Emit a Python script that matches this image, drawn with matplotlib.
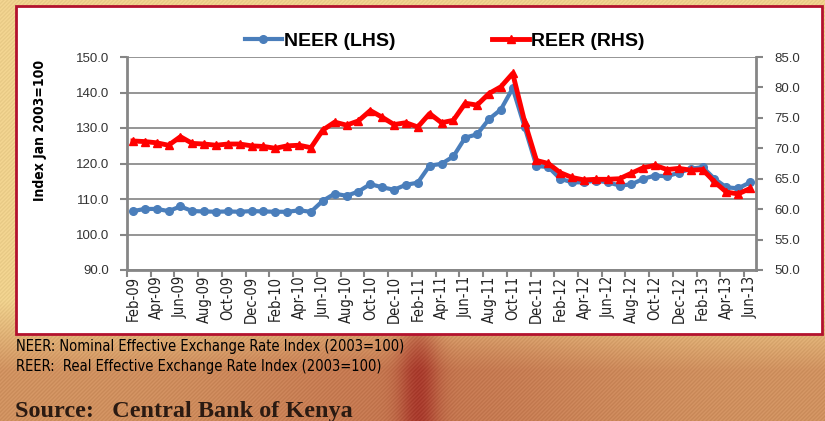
import numpy as np
import matplotlib.pyplot as plt
from matplotlib.patches import Rectangle

# ---------------- data ----------------
tick_labels = ["Feb-09", "Apr-09", "Jun-09", "Aug-09", "Oct-09", "Dec-09",
               "Feb-10", "Apr-10", "Jun-10", "Aug-10", "Oct-10", "Dec-10",
               "Feb-11", "Apr-11", "Jun-11", "Aug-11", "Oct-11", "Dec-11",
               "Feb-12", "Apr-12", "Jun-12", "Aug-12", "Oct-12", "Dec-12",
               "Feb-13", "Apr-13", "Jun-13"]

# monthly, Feb-09 .. Jun-13
neer = [106.6, 107.2, 107.2, 106.6, 107.9, 106.6, 106.5, 106.4, 106.5, 106.4,
        106.6, 106.5, 106.4, 106.4, 106.8, 106.4, 109.5, 111.5, 110.9, 112.1,
        114.2, 113.3, 112.6, 114.0, 114.6, 119.4, 119.9, 122.0, 127.3, 128.2,
        132.5, 135.2, 141.2, 130.3, 119.3, 119.0, 115.7, 114.7, 114.7, 115.2,
        114.7, 113.8, 114.1, 115.7, 116.6, 116.4, 117.4, 118.5, 119.0, 115.7,
        113.3, 113.0, 114.7]

reer = [71.2, 71.1, 70.9, 70.5, 71.9, 70.8, 70.7, 70.5, 70.7, 70.7,
        70.4, 70.3, 70.0, 70.4, 70.5, 70.1, 73.0, 74.3, 73.8, 74.5,
        76.2, 75.1, 73.9, 74.2, 73.5, 75.7, 74.2, 74.6, 77.4, 77.1,
        79.0, 80.1, 82.3, 74.4, 68.0, 67.5, 66.0, 65.2, 64.8, 64.9,
        64.9, 65.0, 65.9, 66.8, 67.2, 66.5, 66.7, 66.4, 66.5, 64.5,
        62.8, 62.5, 63.4]

left_ticks = [90, 100, 110, 120, 130, 140, 150]
right_ticks = [50, 55, 60, 65, 70, 75, 80, 85]

note1 = "NEER: Nominal Effective Exchange Rate Index (2003=100)"
note2 = "REER:  Real Effective Exchange Rate Index (2003=100)"
source = "Source:   Central Bank of Kenya"

plt.rcParams['font.family'] = ['Liberation Sans', 'DejaVu Sans']
narrow = dict(family='DejaVu Sans', fontstretch='condensed')

W, H = 825, 421
fig = plt.figure(figsize=(W / 100, H / 100), dpi=100)

# ---------------- background (gold, orange-brown bottom with red streak) ----------------
yy, xx = np.mgrid[0:H, 0:W].astype(float)
gold = np.array([238, 208, 140]) / 255
orange = np.array([208, 146, 96]) / 255
brown = np.array([188, 100, 68]) / 255
red = np.array([160, 40, 34]) / 255
ty = np.clip((yy - 300) / 70, 0, 1)[..., None]
bg = gold * (1 - ty) + orange * ty
wc = (np.exp(-((xx - 418) / 200) ** 2)[..., None] * ty) * 0.6
bg = bg * (1 - wc) + brown * wc
band = (np.exp(-((xx - 418) / 20) ** 2)[..., None] * ty) * 0.75
bg = bg * (1 - band) + red * band
stripes = 0.025 * np.sin((xx + yy) * 1.6)[..., None]
bg = np.clip(bg + stripes, 0, 1)

bg_ax = fig.add_axes([0, 0, 1, 1], zorder=-2)
bg_ax.imshow(bg, aspect='auto', extent=[0, W, H, 0])
bg_ax.axis("off")

# white framed box
fig.patches.append(Rectangle((16 / W, 1 - 334 / H), 806 / W, 328 / H,
                             transform=fig.transFigure, facecolor='white',
                             edgecolor='#b3122e', linewidth=2, zorder=-1))

# ---------------- main chart ----------------
ax = fig.add_axes([127 / W, 1 - 270 / H, 629 / W, 213 / H])
ax.patch.set_visible(False)
x = np.arange(len(neer))

l1, = ax.plot(x, neer, color='#4a7ebb', lw=3, marker='o', ms=5.5,
              markeredgecolor='#4a7ebb', label='NEER (LHS)', zorder=3)
ax.set_ylim(90, 150)
ax.set_yticks(left_ticks)
ax.set_yticklabels([f"{v:.1f}" for v in left_ticks])
ax.set_xlim(-0.5, len(neer) - 0.5)
ax.set_xticks(np.arange(-0.5, len(neer) - 1, 2))
ax.set_xticklabels([])
ax.set_xticks(np.arange(0, len(neer), 2), minor=True)
ax.set_xticklabels(tick_labels, minor=True, rotation=90, fontsize=10.5,
                   color='#222222', **narrow)
ax.tick_params(axis='x', which='minor', length=0, pad=4)
ax.tick_params(axis='x', which='major', length=5, width=1.5, color='#868686')
ax.tick_params(axis='y', length=5, width=1.5, color='#868686', pad=8,
               labelsize=9.5, labelcolor='#333333')
ax.grid(axis='y', color='#8c8c8c', lw=1.3)
ax.set_axisbelow(True)
for s in ['left', 'bottom']:
    ax.spines[s].set_color('#868686')
    ax.spines[s].set_linewidth(2)
ax.spines['top'].set_visible(False)
ax.spines['right'].set_visible(False)
ax.set_ylabel("Index Jan 2003=100", fontweight='bold', fontsize=10, **narrow)
ax.yaxis.set_label_coords(-0.127, 0.657)

ax2 = ax.twinx()
l2, = ax2.plot(x, reer, color='#ff0000', lw=3.5, marker='^', ms=6,
               markeredgecolor='#ff0000', label='REER (RHS)')
ax2.set_ylim(50, 85)
ax2.set_yticks(right_ticks)
ax2.set_yticklabels([f"{v:.1f}" for v in right_ticks])
ax2.tick_params(axis='y', length=5, width=1.5, color='#868686', pad=8,
                labelsize=9.5, labelcolor='#333333')
ax2.spines['right'].set_color('#868686')
ax2.spines['right'].set_linewidth(2)
for s in ['top', 'left', 'bottom']:
    ax2.spines[s].set_visible(False)

fig.legend(handles=[l1, l2], loc='center', bbox_to_anchor=(0.539, 1 - 41 / H),
           ncol=2, frameon=False, handlelength=1.9, columnspacing=5.0,
           handletextpad=0.1, prop={'weight': 'bold', 'size': 14})

# ---------------- notes below the box ----------------
fig.text(16 / W, 1 - 347 / H, note1, fontsize=10.5, va='center', ha='left',
         color='black', **narrow)
fig.text(16 / W, 1 - 366 / H, note2, fontsize=10.5, va='center', ha='left',
         color='black', **narrow)
fig.text(15 / W, 1 - 417 / H, source, family=['Liberation Serif', 'DejaVu Serif'],
         fontweight='bold', fontsize=17.5, va='baseline', ha='left',
         color='#2a1a12')

fig.savefig("out.png", dpi=100)
